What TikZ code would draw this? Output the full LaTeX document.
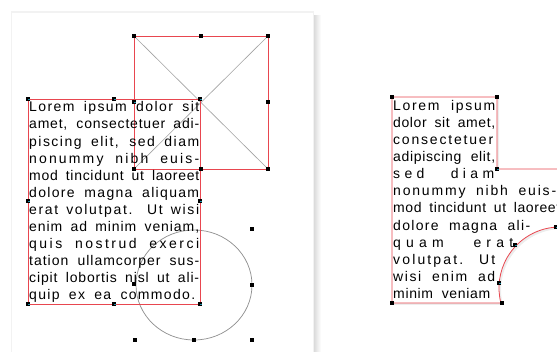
\documentclass[tikz,border=0pt]{standalone}
\usepackage{fontspec}
\usepackage{xcolor}
\usetikzlibrary{positioning}
\newfontfamily\loremfont{Liberation Sans}
\definecolor{frame}{HTML}{E8464F}
\definecolor{guide}{HTML}{A3A3A3}
\definecolor{ringgray}{HTML}{8E8E8E}
\definecolor{gripcore}{HTML}{1E8FA8}
\newcommand{\tline}[3][5]{{\addfontfeature{LetterSpace=#1}\makebox[#2][s]{#3}}}
\tikzset{
  lorem/.style={font=\loremfont\fontsize{14}{17.1}\selectfont,
                align=left,inner sep=0pt,anchor=north west},
  framebox/.style={draw=frame,line width=0.8pt},
  grip/.style={fill=black,minimum size=4.5pt,inner sep=0pt},
  gripc/.style={grip,path picture={
      \fill[gripcore] (path picture bounding box.center) rectangle ++(1.5pt,-1.5pt);}}
}

\begin{document}
\begin{tikzpicture}[x=1pt,y=-1pt]
      \useasboundingbox (0,0) rectangle (557,352);
      \clip (0,0) rectangle (557,352);

      \shade[left color=black!16,right color=white] (313,16) rectangle (321,352);
      \fill[black!5] (11,11) rectangle (314,352);
      \fill[white] (12,13) rectangle (313,352);

      \draw[guide,line width=0.6pt] (134,36) -- (268,169) (268,36) -- (134,169);
      \draw[framebox] (134,36) rectangle (268,169);
      \draw[ringgray,line width=0.7pt] (194,285) ellipse[x radius=58,y radius=55];
      \draw[framebox] (28,99) rectangle (200,304);

      \node[lorem] (lefttext) at (29,101.5) {%
        \tline[10]{170pt}{Lorem ipsum dolor sit}\\
        \tline[5.6]{170pt}{amet, consectetuer adi-}\\
        \tline[10.5]{170pt}{piscing elit, sed diam}\\
        \tline[15.3]{170pt}{nonummy nibh euis-}\\
        \tline[5.2]{170pt}{mod tincidunt ut laoreet}\\
        \tline[9.5]{170pt}{dolore magna aliquam}\\
        \tline[11.9]{170pt}{erat volutpat. Ut wisi}\\
        \tline[6.6]{170pt}{enim ad minim veniam,}\\
        \tline[17.7]{170pt}{quis nostrud exerci}\\
        \tline[7.1]{170pt}{tation ullamcorper sus-}\\
        \tline[6.1]{170pt}{cipit lobortis nisl ut ali-}\\
        \tline[9.5]{166pt}{quip ex ea commodo.}};

      \foreach \p [count=\i] in {(134,36),(201,36),(268,36),(268,102),(268,169),(201,169),(134,169)}
        \node[grip] (sq\i) at \p {};
      \node[gripc] (sq8) at (134,102) {};
      \foreach \p [count=\i] in {(28,99),(114,99),(200,99),(200,201),(200,304),(114,304),(28,304),(28,201)}
        \node[gripc] (tb\i) at \p {};
      \foreach \p [count=\i] in {(252,229),(252,285),(252,340),(194,340),(135,340),(134,284)}
        \node[grip] (ci\i) at \p {};

      \fill[black!7] (394,99) -- (499,99) -- (499,171) -- (566,171) -- (566,229) -- (562,229)
        arc[start angle=-90,end angle=-194.2,radius=61] -- (394,305) -- cycle;
      \draw[framebox,fill=white] (392,97) -- (497,97) -- (497,169) -- (564,169) -- (564,227) -- (560,227)
        arc[start angle=-90,end angle=-194.2,radius=61] -- (392,303) -- cycle;

      \node[lorem] (righttext) at (393,100) {%
        \tline[11.9]{102pt}{Lorem ipsum}\\
        \tline[4.2]{102pt}{dolor sit amet,}\\
        \tline[12.9]{102pt}{consectetuer}\\
        \tline[4.7]{102pt}{adipiscing elit,}\\
        \tline[31]{101pt}{sed diam}\\
        \tline[12.9]{163pt}{nonummy nibh euis-}\\
        \tline[4.2]{167pt}{mod tincidunt ut laoreet}\\
        \tline[9.5]{137pt}{dolore magna ali-}\\
        \tline[37]{120pt}{quam erat}\\
        \tline[15.3]{102pt}{volutpat. Ut}\\
        \tline[11.4]{102pt}{wisi enim ad}\\
        \tline[4.7]{97pt}{minim veniam}};

      \node[grip] (sh1) at (392,97) {};
      \node[grip] (sh2) at (497,97) {};
      \foreach \p [count=\i from 3] in {(497,169),(556,227),(515,245),(499,283)}
        \node[gripc] (sh\i) at \p {};
      \node[grip] (sh7) at (502,303) {};
      \node[grip] (sh8) at (392,303) {};
    \end{tikzpicture}
\end{document}
